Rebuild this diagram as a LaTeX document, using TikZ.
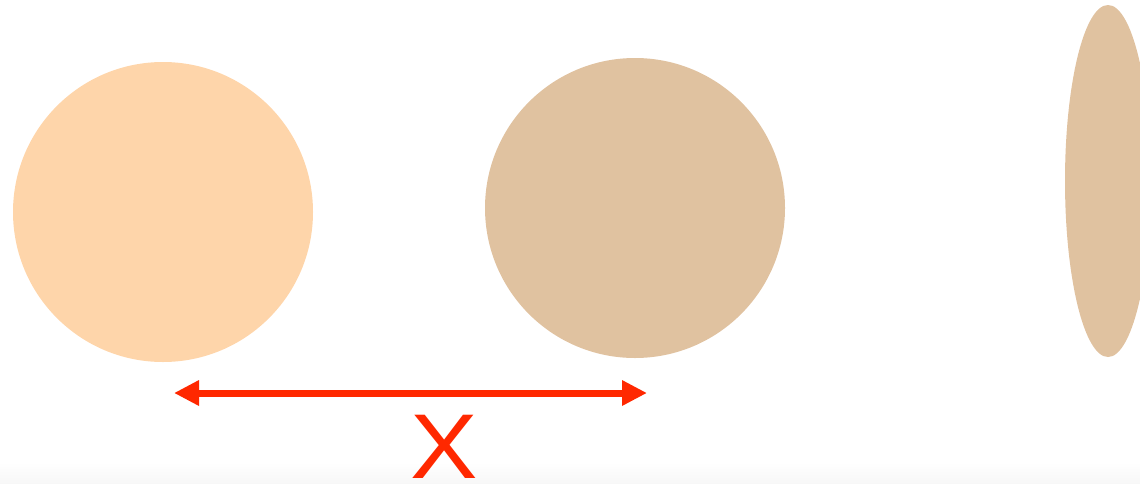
\documentclass[tikz,border=0pt]{standalone}
\usepackage{tikz}
\usepackage{xcolor}
\usepackage{fontspec}
\setmainfont{Liberation Sans}
\usetikzlibrary{arrows.meta,shapes.geometric}
\definecolor{lightskin}{RGB}{254,213,170}
\definecolor{darkskin}{RGB}{224,194,160}
\definecolor{arrowred}{RGB}{255,40,0}

\begin{document}
\begin{tikzpicture}[x=1pt, y=-1pt]
            \useasboundingbox (0,0) rectangle (1140,483);
            \clip (0,0) rectangle (1140,483);
            % Background
            \shade[top color=white, bottom color=black!3] (0,462) rectangle (1140,483);

            % Balls
            \node[circle, fill=lightskin, minimum size=300pt, inner sep=0pt] (ball) at (163,212) {};
            \node[circle, fill=darkskin, minimum size=300pt, inner sep=0pt] (moved) at (635,208) {};
            \node[ellipse, fill=darkskin, minimum width=86pt, minimum height=352pt, inner sep=0pt] (squashed) at (1108,181) {};

            % Distance
            \coordinate (left) at (174,393);
            \coordinate (right) at (647,393);
            \draw[arrowred, line width=7pt, {Triangle[length=25pt 0, width=24pt 0]}-{Triangle[length=25pt 0, width=24pt 0]}] (left) -- (right);
            \node[text=arrowred, font=\fontsize{92}{92}\selectfont, inner sep=0pt, anchor=base, xscale=1.1] (dist) at (444,478) {X};
        \end{tikzpicture}
\end{document}
